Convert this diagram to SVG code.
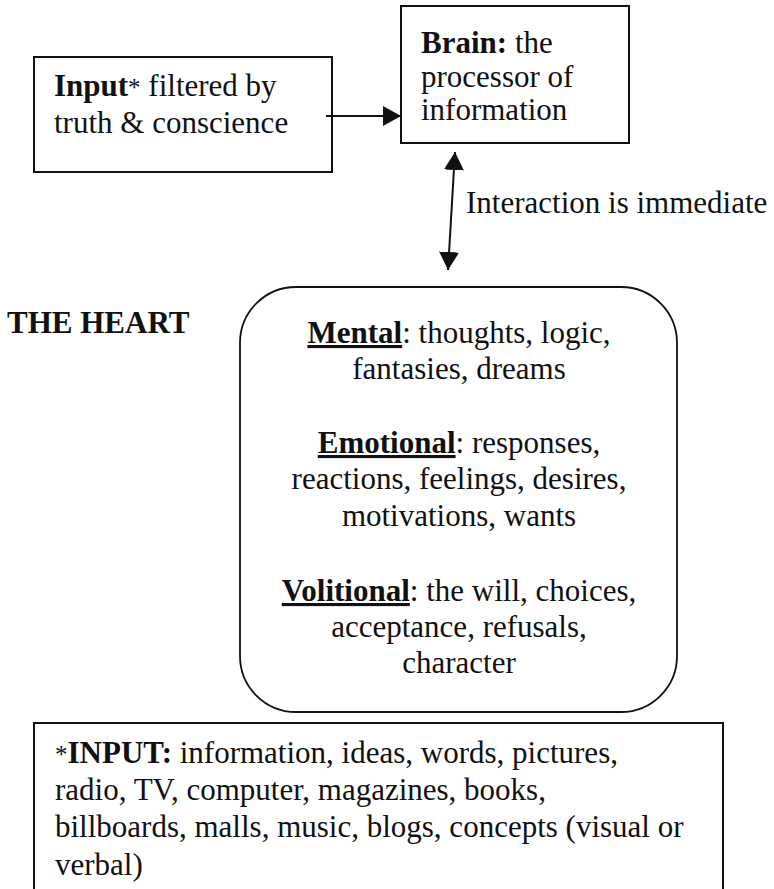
<svg xmlns="http://www.w3.org/2000/svg" width="774" height="889" viewBox="0 0 774 889">
<style>
  text { font-family: "Liberation Serif", "Times New Roman", serif; font-size: 31px; fill: #111; }
  .b { font-weight: bold; }
  .u { text-decoration: underline; }
  .ast { font-size: 25px; }
  .box { fill: #fff; stroke: #111; stroke-width: 2; }
  .conn { stroke: #111; stroke-width: 2; fill: none; }
</style>
<defs>
  <marker id="ah" viewBox="0 0 18 20" refX="18" refY="10" markerWidth="18" markerHeight="20" markerUnits="userSpaceOnUse" orient="auto-start-reverse">
    <path d="M0,0 L18,10 L0,20 Z" fill="#111"/>
  </marker>
</defs>
<rect width="774" height="889" fill="#fff"/>

<g id="input-node">
  <rect class="box" x="34" y="57" width="298" height="115"/>
  <text x="54" y="96"><tspan class="b">Input</tspan><tspan class="ast">*</tspan> filtered by</text>
  <text x="54" y="133">truth &amp; conscience</text>
</g>

<g id="brain-node">
  <rect class="box" x="401" y="6" width="228" height="137"/>
  <text x="421" y="53"><tspan class="b">Brain:</tspan> the</text>
  <text x="421" y="87">processor of</text>
  <text x="421" y="120">information</text>
</g>

<g id="heart-label">
  <text class="b" x="7" y="333">THE HEART</text>
</g>

<g id="heart-node">
  <rect x="240" y="287" width="437" height="425" rx="56" ry="56" fill="#fff" stroke="#111" stroke-width="1.8"/>
  <text x="459" y="343" text-anchor="middle"><tspan class="b u">Mental</tspan>: thoughts, logic,</text>
  <text x="459" y="379" text-anchor="middle">fantasies, dreams</text>
  <text x="459" y="453" text-anchor="middle"><tspan class="b u">Emotional</tspan>: responses,</text>
  <text x="459" y="489" text-anchor="middle">reactions, feelings, desires,</text>
  <text x="459" y="526" text-anchor="middle">motivations, wants</text>
  <text x="459" y="601" text-anchor="middle"><tspan class="b u">Volitional</tspan>: the will, choices,</text>
  <text x="459" y="637" text-anchor="middle">acceptance, refusals,</text>
  <text x="459" y="673" text-anchor="middle">character</text>
</g>

<g id="input-note">
  <rect class="box" x="34" y="723" width="689" height="190"/>
  <text x="55" y="763"><tspan class="ast">*</tspan><tspan class="b">INPUT:</tspan> information, ideas, words, pictures,</text>
  <text x="55" y="800">radio, TV, computer, magazines, books,</text>
  <text x="55" y="837">billboards, malls, music, blogs, concepts (visual or</text>
  <text x="55" y="875">verbal)</text>
</g>

<g id="connectors">
  <line class="conn" x1="326" y1="116" x2="401" y2="116" marker-end="url(#ah)"/>
  <line class="conn" x1="455" y1="152" x2="448" y2="270" marker-start="url(#ah)" marker-end="url(#ah)"/>
  <text x="466" y="213">Interaction is immediate</text>
</g>
</svg>
